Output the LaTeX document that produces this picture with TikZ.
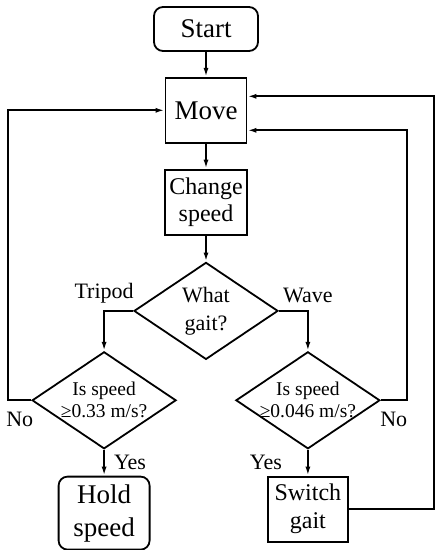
\documentclass[tikz,border=0pt]{standalone}
\usepackage{fontspec}
\setmainfont{Liberation Serif}
\usepackage{tikz}
\usetikzlibrary{arrows.meta,positioning,shapes.geometric}
\tikzset{>=Latex}
\tikzset{
  box/.style={draw, line width=1.8pt, fill=white, inner sep=2pt, align=center},
  rbox/.style={box, rounded corners=9pt},
  decision/.style={diamond, draw, line width=1.8pt, aspect=1.5, inner xsep=-12pt, inner ysep=-4pt,
    minimum width=144pt, minimum height=97pt, align=center},
  arrow/.style={-{Latex[length=9pt,width=5pt]}, line width=1.8pt},
  lbl/.style={inner sep=1pt, font=\fontsize{22}{26}\selectfont},
}

\begin{document}
\begin{tikzpicture}[x=1pt, y=-1pt, node distance=25pt]
    \useasboundingbox (0,0) rectangle (439,550);

    \node[rbox, minimum width=104pt, minimum height=44pt, font=\fontsize{27}{30}\selectfont] (start) at (206,29) {Start};
    \node[box, below=of start, minimum width=81pt, minimum height=65pt, font=\fontsize{27}{30}\selectfont] (move) {Move};
    \node[box, below=of move, minimum width=82pt, minimum height=65pt, font=\fontsize{24}{27}\selectfont] (change)
    {Change\\speed};
    \node[decision, below=26pt of change, font=\fontsize{22}{28}\selectfont] (gait) {What\\gait?};

    \node[decision, below=40pt of gait.west, xshift=-29pt, font=\fontsize{19.5}{22}\selectfont] (fast)
    {Is speed\\≥0.33 m/s?};
    \node[decision, below=40pt of gait.east, xshift=29pt, font=\fontsize{19.5}{22}\selectfont] (slow)
    {Is speed\\≥0.046 m/s?};

    \node[rbox, below=26pt of fast, minimum width=91pt, minimum height=73pt, font=\fontsize{27}{33}\selectfont] (hold)
    {Hold\\speed};
    \node[box, below=26pt of slow, minimum width=80pt, minimum height=65pt, font=\fontsize{24}{28}\selectfont] (switch)
    {Switch\\gait};

    \draw[arrow] (start) -- (move);
    \draw[arrow] (move) -- (change);
    \draw[arrow] (change) -- (gait);
    \draw[arrow] (gait.west) -| node[lbl, pos=.5, above=6pt] {Tripod} (fast);
    \draw[arrow] (gait.east) -| node[lbl, pos=.5, above=6pt] {Wave} (slow);
    \draw[arrow] (fast) -- node[lbl, midway, right=8pt] {Yes} (hold);
    \draw[arrow] (slow) -- node[lbl, midway, left=24pt] {Yes} (switch);

    % loops back to Move
    \draw[arrow] (fast.west) -- node[lbl, midway, below=10pt] {No} ++(-23,0) |- (move);
    \draw[arrow] (slow.east) -- node[lbl, midway, below=10pt] {No} ++(26,0) |- ([yshift=-20pt]move.east);
    \draw[arrow] (switch.east) -- ++(85,0) |- ([yshift=14pt]move.east);
\end{tikzpicture}
\end{document}
